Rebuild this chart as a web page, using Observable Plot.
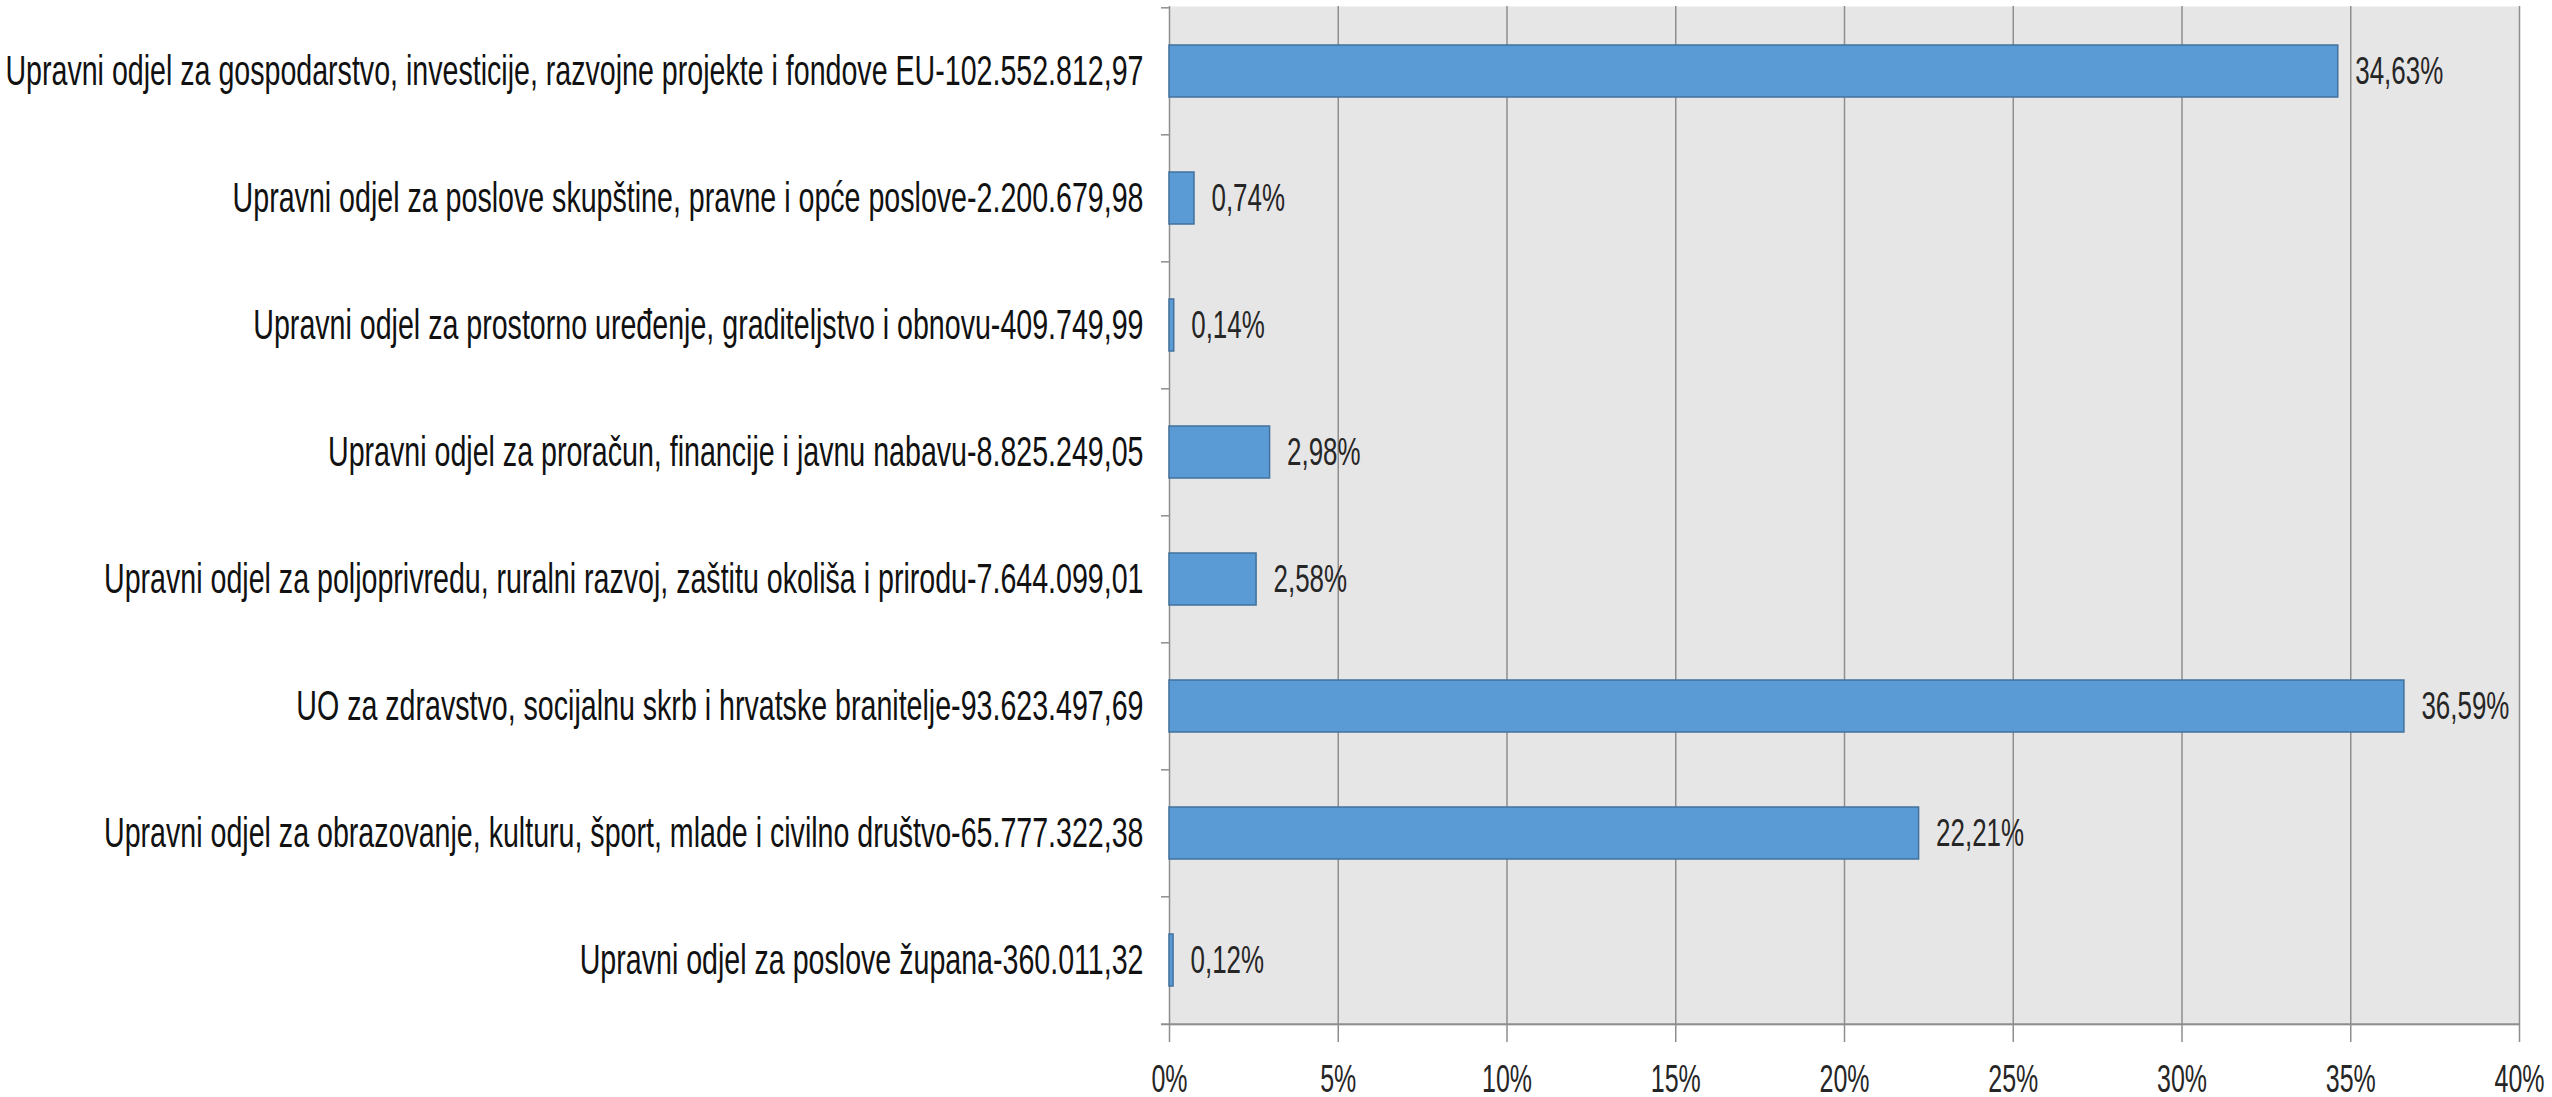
<!DOCTYPE html>
<html>
<head>
<meta charset="utf-8">
<script src="https://cdn.jsdelivr.net/npm/d3@7"></script>
<script src="https://cdn.jsdelivr.net/npm/@observablehq/plot@0.6"></script>
<style>
  html, body { margin: 0; padding: 0; background: #ffffff; }
  #chart svg { display: block; }
</style>
</head>
<body>
<div id="chart"></div>
<script>
const categories = [
  "Upravni odjel za gospodarstvo, investicije, razvojne projekte i fondove EU-102.552.812,97",
  "Upravni odjel za poslove skupštine, pravne i opće poslove-2.200.679,98",
  "Upravni odjel za prostorno uređenje, graditeljstvo i obnovu-409.749,99",
  "Upravni odjel za proračun, financije i javnu nabavu-8.825.249,05",
  "Upravni odjel za poljoprivredu, ruralni razvoj, zaštitu okoliša i prirodu-7.644.099,01",
  "UO za zdravstvo, socijalnu skrb i hrvatske branitelje-93.623.497,69",
  "Upravni odjel za obrazovanje, kulturu, šport, mlade i civilno društvo-65.777.322,38",
  "Upravni odjel za poslove župana-360.011,32"
];
const shares = [34.63, 0.74, 0.14, 2.98, 2.58, 36.59, 22.21, 0.12];
const valueLabels = ["34,63%", "0,74%", "0,14%", "2,98%", "2,58%", "36,59%", "22,21%", "0,12%"];
const xTicks = [0, 5, 10, 15, 20, 25, 30, 35, 40];
const xTickLabels = ["0%", "5%", "10%", "15%", "20%", "25%", "30%", "35%", "40%"];

const data = categories.map((c, i) => ({category: c, share: shares[i], label: valueLabels[i]}));

const W = 2552, H = 1097;
const mL = 1169, mR = 33, mT = 6, mB = 72;
const step = (H - mT - mB) / categories.length;
const tickLenPct = 8 / ((W - mL - mR) / 40);
const FONT = "'Liberation Sans', Arial, sans-serif";
const gridColor = "#8e8e8e";

const chart = Plot.plot({
  width: W,
  height: H,
  marginLeft: mL,
  marginRight: mR,
  marginTop: mT,
  marginBottom: mB,
  style: {fontFamily: FONT, background: "#ffffff", color: "#1a1a1a"},
  x: {domain: [0, 40], range: [mL, W - mR]},
  y: {domain: categories, paddingInner: 0.59, paddingOuter: 0.295, align: 0.5},
  marks: [
    Plot.frame({fill: "#e6e6e6", stroke: null}),
    Plot.ruleX(xTicks, {stroke: gridColor, strokeWidth: 1.5}),
    Plot.ruleY(data, {y: "category", x1: -tickLenPct, x2: 0, dy: -step / 2, stroke: gridColor, strokeWidth: 1.5}),
    Plot.ruleY(data.slice(-1), {y: "category", x1: -tickLenPct, x2: 40, dy: step / 2, stroke: gridColor, strokeWidth: 2}),
    Plot.barX(data, {y: "category", x: "share", fill: "#5b9bd5", stroke: "#41719c", strokeWidth: 1.5}),
    Plot.text(data, {y: "category", x: "share", text: "label", textAnchor: "start", dx: 17, fontSize: 39, fill: "#262626", fontFamily: FONT}),
    Plot.axisY({anchor: "left", tickSize: 0, tickPadding: 26, fontSize: 43, fill: "#111111", fontFamily: FONT, label: null}),
    Plot.axisX({anchor: "bottom", ticks: xTicks, tickSize: 17, tickPadding: 22, fontSize: 39, stroke: gridColor, strokeWidth: 1.5, fill: "#262626", fontFamily: FONT, label: null,
      tickFormat: d => xTickLabels[xTicks.indexOf(d)]})
  ]
});
document.getElementById("chart").appendChild(chart);

// The reference's lettering is strongly condensed horizontally: compress glyphs in place.
const catSet = new Set(categories), valSet = new Set(valueLabels), tickSet = new Set(xTickLabels);
chart.querySelectorAll("text").forEach(t => {
  const s = t.textContent;
  let k = null;
  if (catSet.has(s)) k = 0.665;
  else if (valSet.has(s)) k = 0.665;
  else if (tickSet.has(s)) k = 0.64;
  if (k == null) return;
  const len = t.getComputedTextLength();
  if (len > 0) {
    t.setAttribute("textLength", (len * k).toFixed(1));
    t.setAttribute("lengthAdjust", "spacingAndGlyphs");
  }
});
</script>
</body>
</html>
